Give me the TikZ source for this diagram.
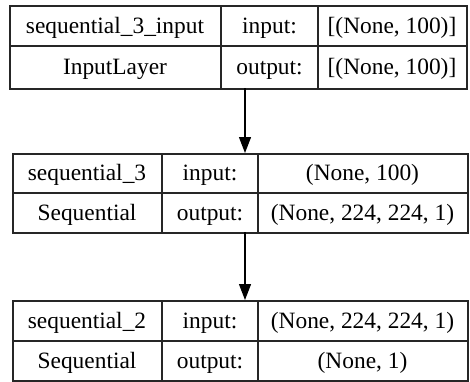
\documentclass[tikz,border=0pt]{standalone}
\usepackage{fontspec}
\setmainfont{Liberation Serif}
\usetikzlibrary{arrows.meta}
\begin{document}
\begin{tikzpicture}[x=1pt,y=-1pt,
 outer/.style={draw=black!85, line width=1.6pt, rectangle, inner sep=0pt, anchor=north west},
 inner/.style={draw=black!85, line width=1.2pt},
 lbl/.style={font=\fontsize{23.4}{28}\selectfont, inner sep=0pt, text height=17pt, text depth=2pt, anchor=center},
 conn/.style={line width=1.3pt, draw=black, -{Triangle[length=16pt,width=12pt]}}]
\useasboundingbox (0,0) rectangle (470,381);
% box 1
\node[outer, minimum width=457pt, minimum height=83pt] (box1) at (9,5) {};
\draw[inner] (221,5) -- (221,88);
\draw[inner] (318,5) -- (318,88);
\draw[inner] (9,46) -- (466,46);
\node[lbl] (b1a) at (115,25.5) {sequential\_3\_input};
\node[lbl] (b1b) at (115,67) {InputLayer};
\node[lbl] (b1c) at (269.5,25.5) {input:};
\node[lbl] (b1d) at (269.5,67) {output:};
\node[lbl] (b1e) at (392,25.5) {[(None, 100)]};
\node[lbl] (b1f) at (392,67) {[(None, 100)]};
% box 2
\node[outer, minimum width=455pt, minimum height=79pt] (box2) at (12,153) {};
\draw[inner] (162,153) -- (162,232);
\draw[inner] (258,153) -- (258,232);
\draw[inner] (12,193) -- (467,193);
\node[lbl] (b2a) at (87,173) {sequential\_3};
\node[lbl] (b2b) at (87,212.5) {Sequential};
\node[lbl] (b2c) at (210,173) {input:};
\node[lbl] (b2d) at (210,212.5) {output:};
\node[lbl] (b2e) at (362.5,173) {(None, 100)};
\node[lbl] (b2f) at (362.5,212.5) {(None, 224, 224, 1)};
% box 3
\node[outer, minimum width=455pt, minimum height=80pt] (box3) at (12,300) {};
\draw[inner] (162,300) -- (162,380);
\draw[inner] (258,300) -- (258,380);
\draw[inner] (12,341) -- (467,341);
\node[lbl] (b3a) at (87,320.5) {sequential\_2};
\node[lbl] (b3b) at (87,360.5) {Sequential};
\node[lbl] (b3c) at (210,320.5) {input:};
\node[lbl] (b3d) at (210,360.5) {output:};
\node[lbl] (b3e) at (362.5,320.5) {(None, 224, 224, 1)};
\node[lbl] (b3f) at (362.5,360.5) {(None, 1)};
% connectors
\coordinate (a1) at (245,88);
\coordinate (a2) at (245,232);
\draw[conn] (a1) -- (a1 |- box2.north);
\draw[conn] (a2) -- (a2 |- box3.north);
\end{tikzpicture}
\end{document}
